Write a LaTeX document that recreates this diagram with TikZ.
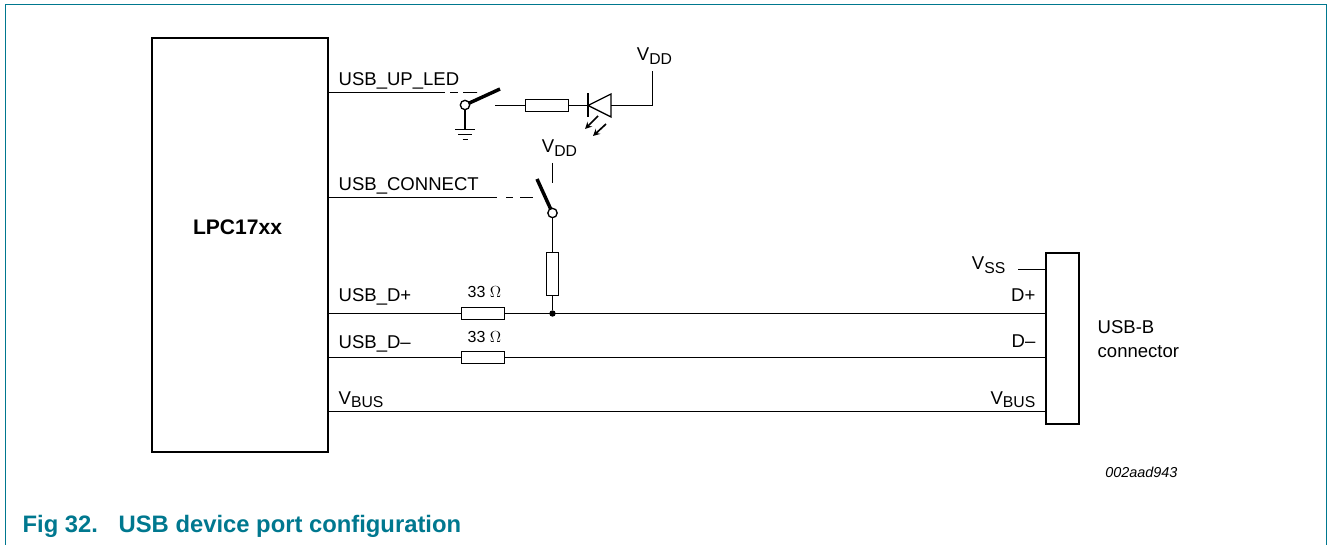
\documentclass[tikz,border=0pt]{standalone}
\usepackage{fontspec}
\setmainfont{Liberation Sans}
\usetikzlibrary{positioning}
\definecolor{figteal}{HTML}{00788F}
\newcommand{\vsub}[1]{V\raisebox{-0.32ex}{\fontsize{11.8}{14}\selectfont #1}}

\begin{document}
\begin{tikzpicture}[x=0.75pt,y=-0.75pt,>=stealth,line width=1pt,
		sig/.style={anchor=base west,inner sep=0,font=\fontsize{13.9}{16}\selectfont},
		pin/.style={anchor=base east,inner sep=0,font=\fontsize{13.9}{16}\selectfont},
		supply/.style={anchor=base,inner sep=0,font=\fontsize{13.9}{16}\selectfont},
		ohm/.style={anchor=base,inner sep=0,font=\fontsize{12}{14}\selectfont},
		block/.style={draw,line width=2.2pt,inner sep=0,outer sep=0},
		resistor/.style={draw,line width=1pt,inner sep=0,outer sep=0,fill=white},
		pivot/.style={draw,circle,line width=1pt,inner sep=0,outer sep=0,minimum size=7pt,fill=white},
		blade/.style={line width=2.6pt},
		junction/.style={fill,circle,inner sep=0,minimum size=4.8pt}]
		\useasboundingbox (0,0) rectangle (1328,545);

		% create the frame
		\draw[figteal,line width=1pt] (5.5,545) -- (5.5,4.5) -- (1326.5,4.5) -- (1326.5,545);

		% create the blocks
		\node (lpc) [block,minimum width=132pt,minimum height=310.5pt] at (240,245) {};
		\node (lpcname) [inner sep=0,font=\fontsize{15.8}{18}\selectfont\bfseries] at (237.5,227) {LPC17xx};
		\node (usbb) [block,minimum width=24.75pt,minimum height=128.25pt] at (1062.5,338.5) {};
		\node (usbbtop) [sig] at (1097,334) {USB-B};
		\node (usbbbot) [sig] at (1097,357) {connector};

		% create the resistors
		\node (rled) [resistor,minimum width=32.25pt,minimum height=9pt] at (547,105.5) {};
		\node (rpull) [resistor,minimum width=9pt,minimum height=32.25pt] at (552.5,274) {};
		\node (rdplus) [resistor,minimum width=32.25pt,minimum height=9pt] at (483,313.5) {};
		\node (rdminus) [resistor,minimum width=32.25pt,minimum height=9pt] at (483,357.5) {};
		\node (ohmplus) [ohm] at (484.5,298) {33 $\Omega$};
		\node (ohmminus) [ohm] at (484.5,342) {33 $\Omega$};

		% create the switches
		\node (pivotled) [pivot] at (465,105) {};
		\node (pivotcon) [pivot] at (552.5,213) {};
		\node (dot) [junction] at (552.5,313.5) {};

		% create the signal names
		\node (upled) [sig] at (338,86) {USB\_UP\_LED};
		\node (connect) [sig] at (338,191) {USB\_CONNECT};
		\node (dplus) [sig] at (338,302) {USB\_D+};
		\node (dminus) [sig] at (338,349) {USB\_D\textendash};
		\node (vbus) [sig] at (338,404) {\vsub{BUS}};
		\node (pinplus) [pin] at (1036,302) {D+};
		\node (pinminus) [pin] at (1036,348) {D\textendash};
		\node (pinvbus) [pin] at (1036,404) {\vsub{BUS}};
		\node (vss) [pin] at (1006,270) {\vsub{SS}};
		\node (vddled) [supply] at (654.5,61) {\vsub{DD}};
		\node (vddcon) [supply] at (559.5,153) {\vsub{DD}};
		\node (docnum) [anchor=base east,inner sep=0,font=\fontsize{10.8}{13}\selectfont\itshape] at (1178,477) {002aad943};
		\node (caption) [anchor=base west,inner sep=0,text=figteal,font=\fontsize{17.85}{21}\selectfont\bfseries] at (22,532) {Fig 32.};
		\node (captext) [anchor=base west,inner sep=0,text=figteal,font=\fontsize{17.85}{21}\selectfont\bfseries] at (118,532) {USB device port configuration};

		% create the free ends
		\coordinate (ledsolid) at (445,92.5);
		\coordinate (leddash) at (477,92.5);
		\coordinate (ledblade) at (500,89);
		\coordinate (ledout) at (495,105.5);
		\coordinate (gnd) at (465,129.5);
		\coordinate (dtip) at (588,105.5);
		\coordinate (dbase) at (611,105.5);
		\coordinate (vddcorner) at (652.5,105.5);
		\coordinate (vddtop) at (652.5,71);
		\coordinate (consolid) at (497,197.5);
		\coordinate (condash) at (533,197.5);
		\coordinate (conblade) at (537,179);
		\coordinate (stubtop) at (552.5,163);
		\coordinate (stubbot) at (552.5,183);
		\coordinate (vssend) at (1018,269.5);

		% connect the nodes
		\draw (lpc.east |- ledsolid) -- (ledsolid);
		\draw[dash pattern=on 6pt off 3.75pt on 10.5pt off 0pt] (ledsolid) ++(5,0) -- (leddash);
		\draw[blade] (pivotled) -- (ledblade);
		\draw (pivotled) -- (gnd);
		\draw (ledout) -- (rled);
		\draw (rled) -- (dtip);
		\draw (dbase) -- (vddcorner) -- (vddtop);
		\draw (lpc.east |- consolid) -- (consolid);
		\draw[dash pattern=on 5.25pt off 5.25pt on 9.75pt off 0pt] (consolid) ++(9,0) -- (condash);
		\draw[blade] (conblade) -- (pivotcon);
		\draw (stubtop) -- (stubbot);
		\draw (pivotcon) -- (rpull);
		\draw (rpull) -- (dot);
		\draw (lpc.east |- rdplus) -- (rdplus);
		\draw (rdplus) -- (usbb.west |- rdplus);
		\draw (lpc.east |- rdminus) -- (rdminus);
		\draw (rdminus) -- (usbb.west |- rdminus);
		\draw (lpc.east |- 0,411.5) -- (usbb.west |- 0,411.5);
		\draw (vssend) -- (usbb.west |- vssend);

		% ground and diode
		\draw (gnd) ++(-10,0) -- ++(20,0);
		\draw (gnd) ++(-7,5) -- ++(14,0);
		\draw (gnd) ++(-2.5,10) -- ++(5,0);
		\draw (dbase) ++(0,-11.5) -- ++(0,23) -- (dtip) -- cycle;
		\draw[line width=2pt] (dtip) ++(0,-12) -- ++(0,24);
		\draw[->,line width=1.25pt] (598,116) -- (585,129);
		\draw[->,line width=1.25pt] (606,124) -- (593,136);
	\end{tikzpicture}
\end{document}
